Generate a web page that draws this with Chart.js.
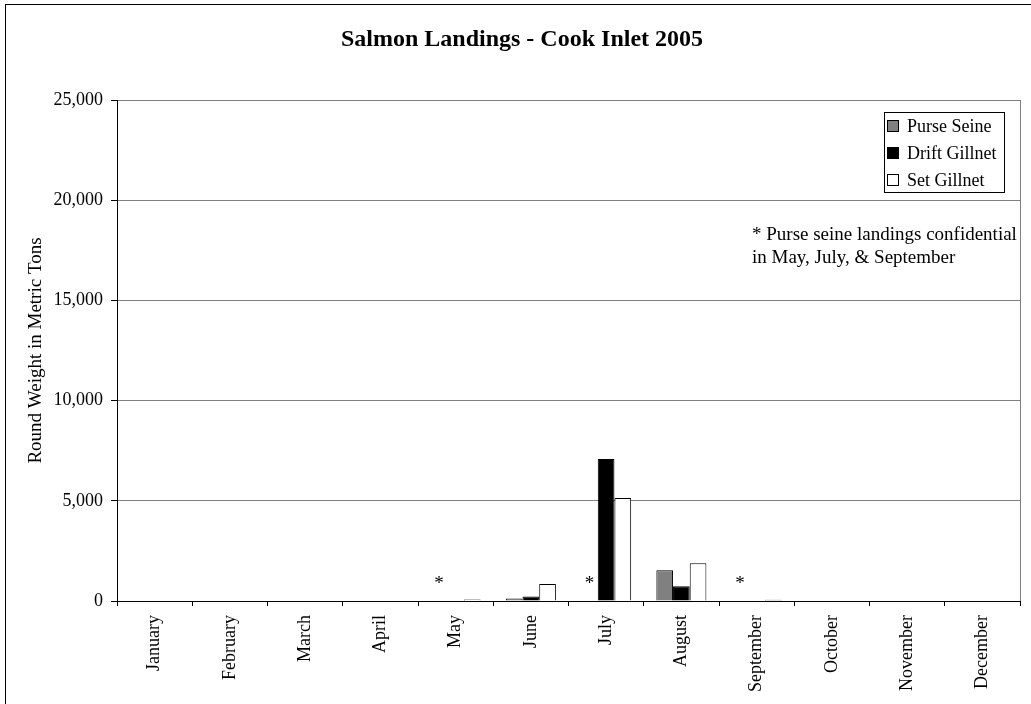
<!DOCTYPE html>
<html>
<head>
<meta charset="utf-8">
<title>Salmon Landings - Cook Inlet 2005</title>
<script src="https://cdn.jsdelivr.net/npm/chart.js@4/dist/chart.umd.min.js"></script>
<style>
    html, body { margin: 0; padding: 0; background: #fff; }
    #wrap { width: 1031px; height: 704px; position: relative; }
</style>
</head>
<body>
<div id="wrap"><canvas id="salmonChart" width="1031" height="704"></canvas></div>
<script>
var months = ['January', 'February', 'March', 'April', 'May', 'June',
    'July', 'August', 'September', 'October', 'November', 'December'];
var purseSeine = [0, 0, 0, 0, null, 120, null, 1530, null, 0, 0, 0];
var driftGillnet = [0, 0, 0, 0, 0, 230, 7080, 730, 0, 0, 0, 0];
var setGillnet = [0, 0, 0, 0, 70, 850, 5140, 1880, 60, 0, 0, 0];
var confidentialMonths = ['May', 'July', 'September'];
var seriesNames = ['Purse Seine', 'Drift Gillnet', 'Set Gillnet'];
var yTicks = [0, 5000, 10000, 15000, 20000, 25000];
var chartTitle = 'Salmon Landings - Cook Inlet 2005';
var noteLines = ['* Purse seine landings confidential', 'in May, July, & September'];

(function() {
    'use strict';

    var serif = '"Liberation Serif", "Times New Roman", serif';
    var colors = ['#808080', '#000000', '#ffffff'];

    var extras = {
        id: 'extras',
        afterDraw: function(chart) {
            var ctx = chart.ctx;
            var area = chart.chartArea;
            ctx.save();

            // outer frame (only left + top edges fall inside the picture)
            ctx.strokeStyle = '#000';
            ctx.lineWidth = 1;
            ctx.strokeRect(5.5, 4.5, 1040, 720);

            // right edge of the plot area
            ctx.strokeStyle = '#808080';
            ctx.beginPath();
            ctx.moveTo(area.right + 0.5, area.top);
            ctx.lineTo(area.right + 0.5, area.bottom);
            ctx.stroke();

            // title
            ctx.fillStyle = '#000';
            ctx.font = 'bold 24px ' + serif;
            ctx.textAlign = 'center';
            ctx.textBaseline = 'middle';
            ctx.fillText(chartTitle, 522, 40);

            // asterisks where purse seine is confidential
            var meta = chart.getDatasetMeta(0);
            ctx.font = '19px ' + serif;
            confidentialMonths.forEach(function(m) {
                var el = meta.data[months.indexOf(m)];
                if (el) ctx.fillText('*', el.x, area.bottom - 17);
            });

            // note
            ctx.font = '19px ' + serif;
            ctx.textAlign = 'left';
            ctx.fillText(noteLines[0], 752, 235);
            ctx.fillText(noteLines[1], 752, 258);

            // legend box
            var lx = 884, ly = 112;
            ctx.font = '18px ' + serif;
            ctx.strokeStyle = '#000';
            ctx.strokeRect(lx + 0.5, ly + 0.5, 120, 80);
            seriesNames.forEach(function(name, k) {
                var cy = Math.round(ly + 14 + k * 27);
                ctx.fillStyle = colors[k];
                ctx.fillRect(lx + 3.5, cy - 5.5, 11, 11);
                ctx.strokeRect(lx + 3.5, cy - 5.5, 11, 11);
                ctx.fillStyle = '#000';
                ctx.fillText(name, lx + 23, cy + 1);
            });

            ctx.restore();
        }
    };

    function initChart() {
        if (typeof Chart === 'undefined') return;
        var canvas = document.getElementById('salmonChart');
        if (!canvas) return;
        Chart.defaults.font.family = serif;
        Chart.defaults.color = '#000';

        var datasets = [purseSeine, driftGillnet, setGillnet].map(function(values, k) {
            return {
                label: seriesNames[k],
                data: values,
                backgroundColor: colors[k],
                borderColor: '#000',
                borderWidth: 1,
                categoryPercentage: 0.665,
                barPercentage: 1
            };
        });

        new Chart(canvas, {
            type: 'bar',
            data: { labels: months, datasets: datasets },
            options: {
                responsive: false,
                animation: false,
                layout: { padding: { top: 100, right: 11, left: 0, bottom: 0 } },
                plugins: {
                    legend: { display: false },
                    title: { display: false },
                    tooltip: { enabled: false }
                },
                scales: {
                    x: {
                        grid: {
                            offset: true,
                            drawOnChartArea: false,
                            drawTicks: true,
                            tickLength: 5,
                            tickColor: '#000'
                        },
                        border: { color: '#000', width: 1 },
                        ticks: {
                            maxRotation: 90,
                            minRotation: 90,
                            padding: 9,
                            font: { size: 18 },
                            color: '#000'
                        },
                        afterFit: function(scale) { scale.height = 103; }
                    },
                    y: {
                        min: 0,
                        max: 25000,
                        afterBuildTicks: function(scale) {
                            scale.ticks = yTicks.map(function(v) { return { value: v }; });
                        },
                        grid: {
                            color: '#808080',
                            tickColor: '#000',
                            tickLength: 6
                        },
                        border: { color: '#000', width: 1 },
                        ticks: {
                            padding: 8,
                            font: { size: 18 },
                            color: '#000',
                            callback: function(v) { return Number(v).toLocaleString('en-US'); }
                        },
                        title: {
                            display: true,
                            text: 'Round Weight in Metric Tons',
                            font: { size: 19 },
                            color: '#000',
                            padding: { top: 25, bottom: 0 }
                        },
                        afterFit: function(scale) { scale.width = 117; }
                    }
                }
            },
            plugins: [extras]
        });
    }

    if (document.readyState === 'loading') {
        document.addEventListener('DOMContentLoaded', initChart);
    } else {
        initChart();
    }
})();
</script>
</body>
</html>
